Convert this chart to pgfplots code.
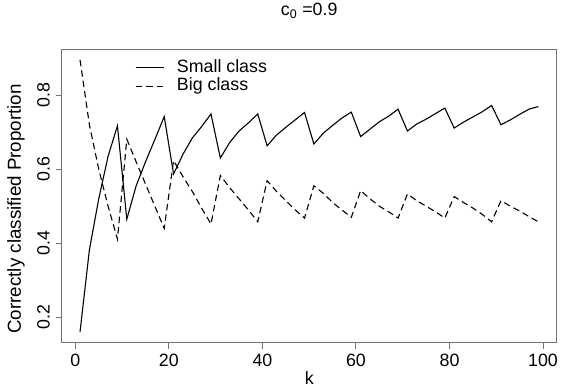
\documentclass[border=0pt]{standalone}
\usepackage{fontspec}
\setmainfont{Liberation Sans}
\usepackage{pgfplots}
\usepackage{pgfplotstable}
\pgfplotsset{compat=1.18}

\pgfplotstableread{
k small big
1 0.161 0.895
3 0.382 0.720
5 0.520 0.600
7 0.635 0.500
9 0.717 0.411
11 0.465 0.681
13 0.555 0.620
15 0.620 0.560
17 0.680 0.500
19 0.742 0.440
21 0.587 0.623
23 0.640 0.580
25 0.684 0.540
27 0.715 0.495
29 0.749 0.452
31 0.630 0.583
33 0.672 0.550
35 0.703 0.520
37 0.725 0.490
39 0.749 0.458
41 0.663 0.569
43 0.692 0.540
45 0.713 0.515
47 0.733 0.490
49 0.753 0.468
51 0.668 0.555
53 0.697 0.535
55 0.718 0.510
57 0.738 0.490
59 0.754 0.470
61 0.688 0.542
63 0.708 0.520
65 0.728 0.500
67 0.743 0.485
69 0.762 0.468
71 0.703 0.533
73 0.722 0.515
75 0.735 0.500
77 0.750 0.485
79 0.765 0.468
81 0.711 0.526
83 0.727 0.510
85 0.741 0.495
87 0.755 0.478
89 0.772 0.458
91 0.720 0.515
93 0.733 0.500
95 0.748 0.487
97 0.762 0.472
99 0.769 0.458
}\datatable

\begin{document}
\fontsize{17.8}{21}\selectfont
\begin{tikzpicture}
\begin{axis}[
  at={(0,0)}, anchor=south west,
  scale only axis, width=495pt, height=293.4pt,
  xmin=-2.92, xmax=102.92, ymin=0.1316, ymax=0.9236,
  xtick={0,20,40,60,80,100},
  ytick={0.2,0.4,0.6,0.8},
  yticklabels={0.2,0.4,0.6,0.8},
  /pgf/number format/assume math mode=true,
  tick label style={font=\fontsize{17.8}{21}\selectfont, inner sep=0pt},
  axis line style={draw=black!55, line width=1.2pt},
  tick style={draw=black!55, line width=1pt},
  tick align=outside, major tick length=6pt,
  xtick pos=bottom, ytick pos=left,
  xticklabel shift=5.3pt,
  yticklabel shift=5.7pt,
  yticklabel style={rotate=90, anchor=south},
  xticklabel style={anchor=north},
  xlabel={k},
  xlabel style={at={(axis description cs:0.5,0)}, anchor=north, inner sep=0pt, yshift=-29pt},
  ylabel={Correctly classified Proportion},
  ylabel style={at={(axis description cs:-0.0741,0.456)}, rotate=0, anchor=south, inner sep=0pt,
    font=\fontsize{18.8}{22}\selectfont},
  title={c\textsubscript{0} =0.9},
  title style={at={(axis description cs:0.5,1)}, anchor=base, yshift=27.6pt, inner sep=0pt},
  legend style={draw=none, fill=none, at={(axis description cs:0.148,0.965)}, anchor=north west,
    inner sep=0pt, row sep=2.6pt, column sep=12.7pt,
    nodes={inner sep=0pt, text height=12.5pt, text depth=3.5pt, anchor=west},
    font=\fontsize{17.8}{21}\selectfont},
  legend cell align=left,
  legend image code/.code={\draw[#1] (0pt,0pt) -- (28pt,0pt);},
]
\addplot[black, line width=1.1pt] table[x=k, y=small] {\datatable};
\addlegendentry{Small class}
\addplot[black, line width=1.1pt, dash pattern=on 6.5pt off 4pt] table[x=k, y=big] {\datatable};
\addlegendentry{Big class}
\end{axis}
\path[use as bounding box] (-61.7pt,-45.3pt) rectangle (500.3pt,342.7pt);
\end{tikzpicture}
\end{document}
